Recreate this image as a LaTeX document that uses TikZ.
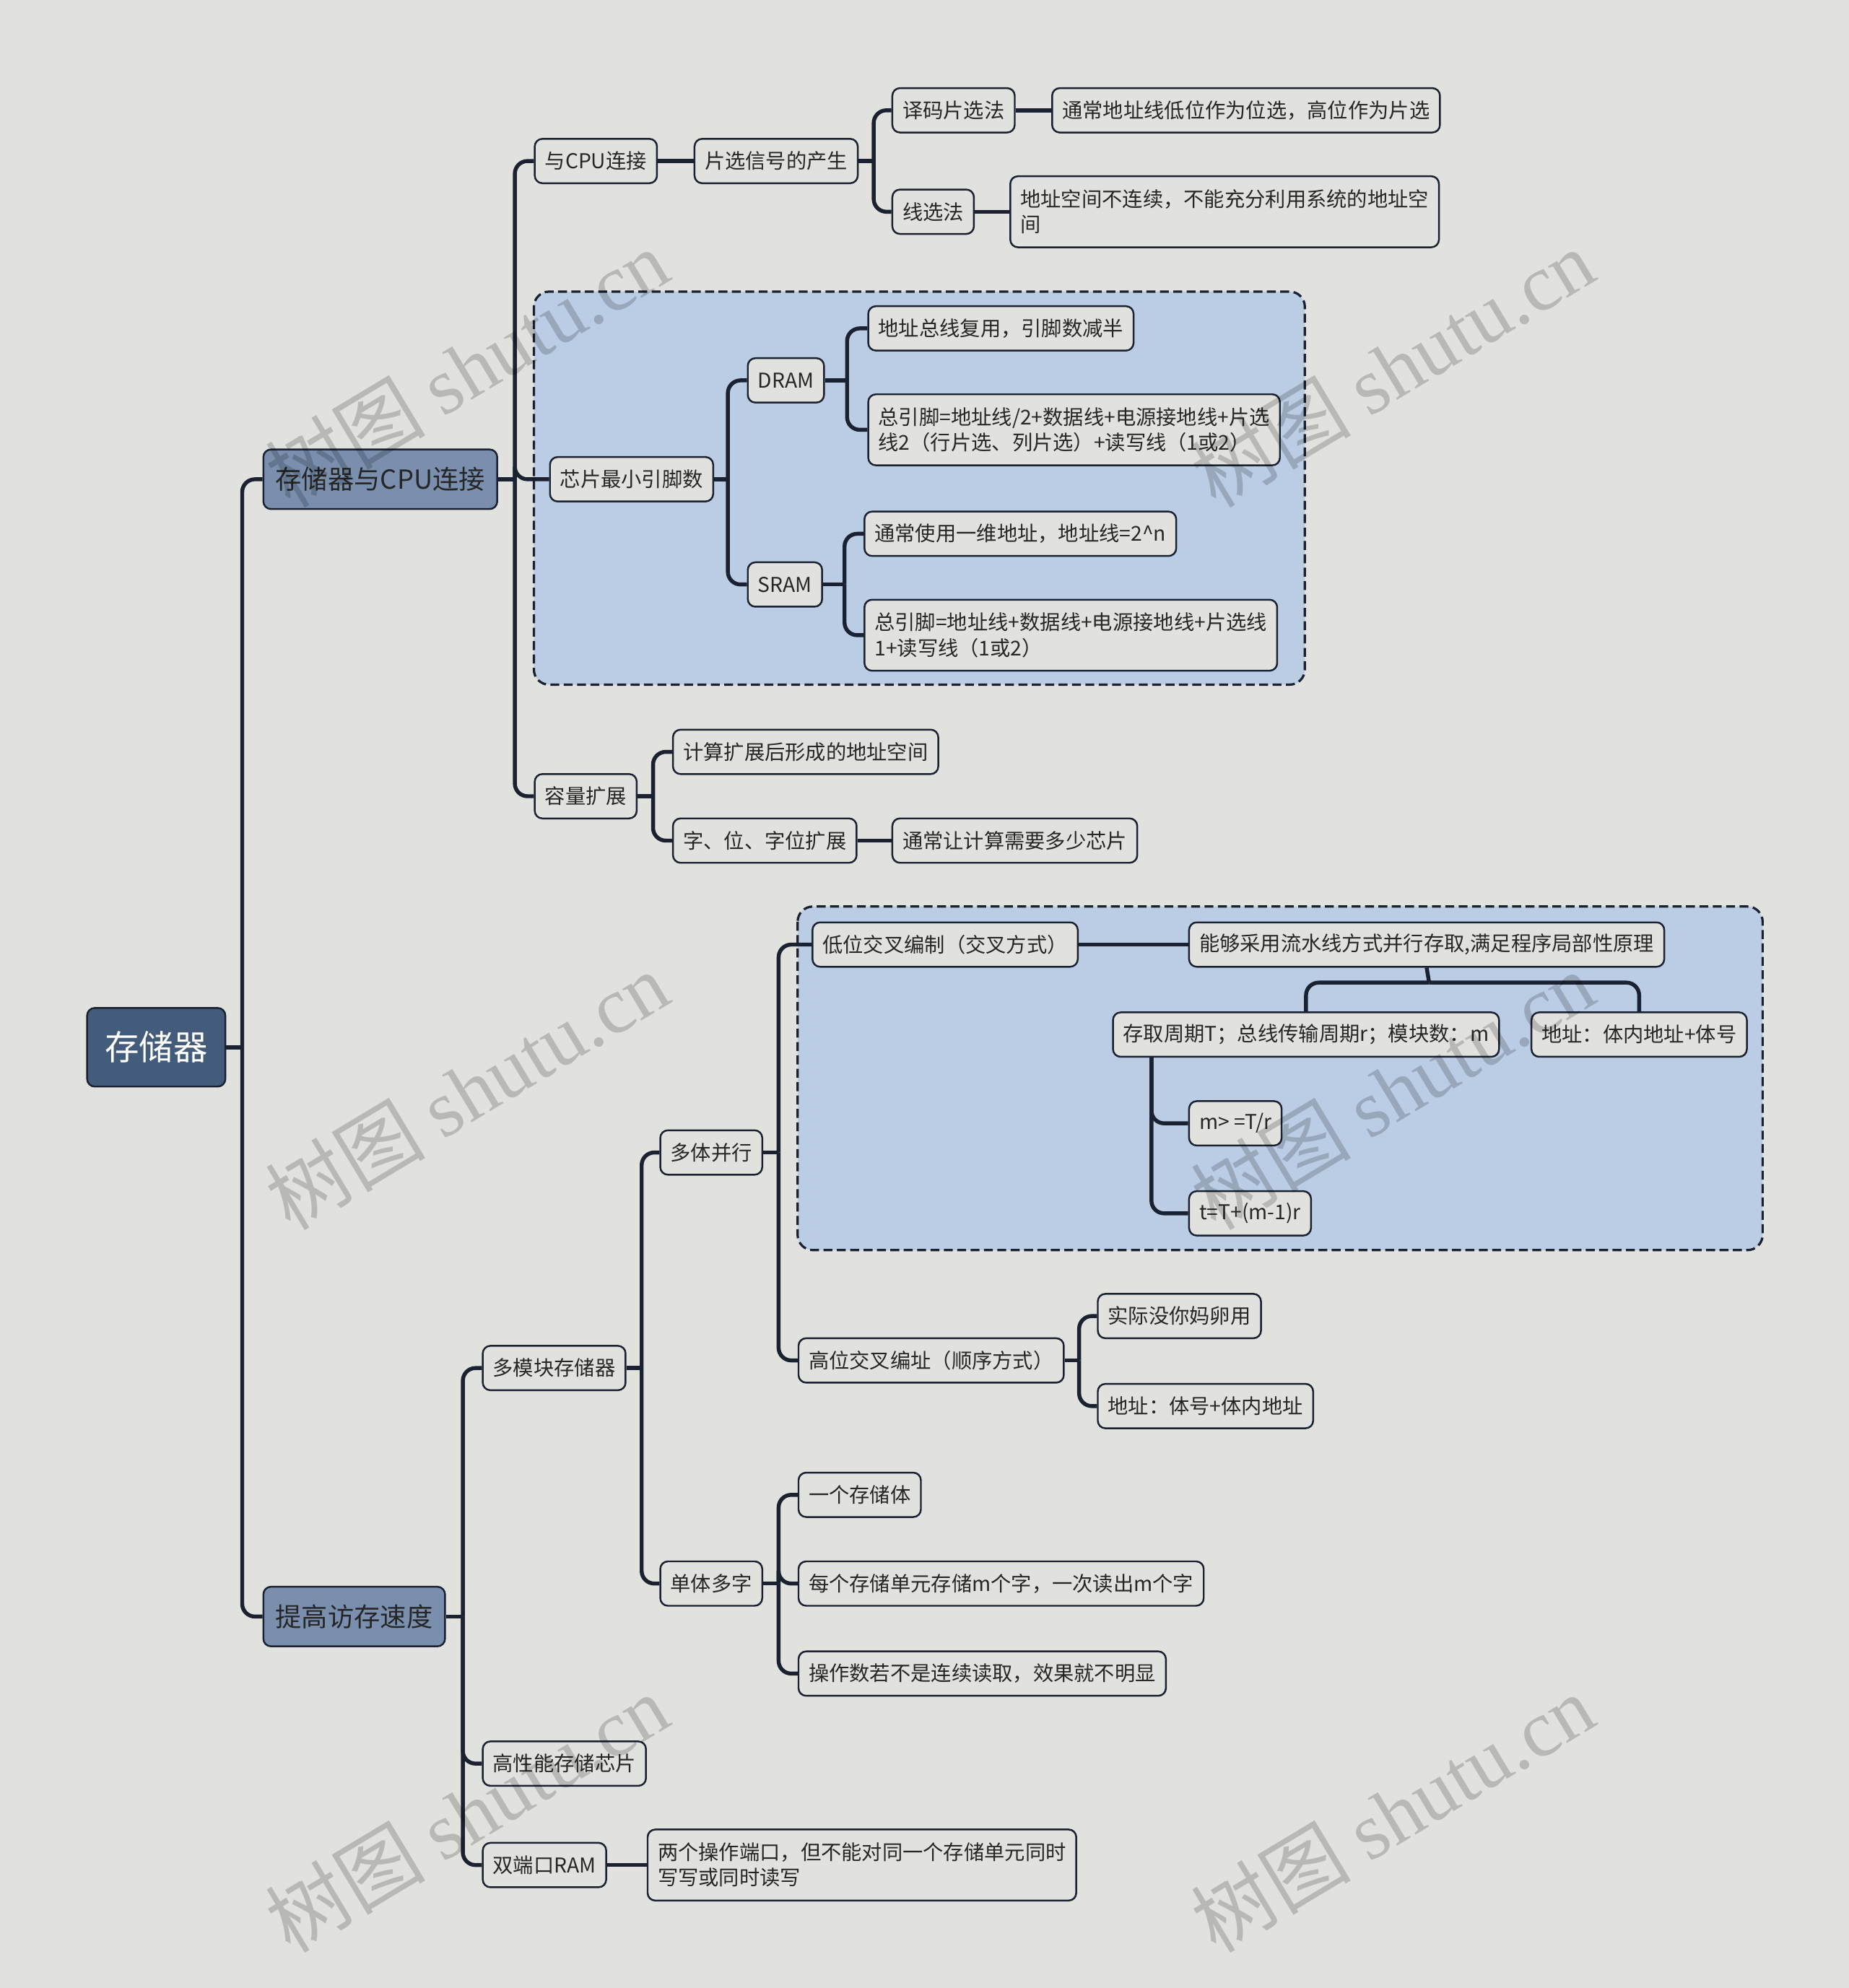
\documentclass[tikz,border=0pt]{standalone}
\usepackage{fontspec}
\setmainfont{Noto Sans CJK SC}
\newfontfamily\wmfont{Liberation Serif}
\usetikzlibrary{calc}

\definecolor{bgc}{HTML}{E1E2DE}
\definecolor{rootc}{HTML}{445C7C}
\definecolor{topc}{HTML}{7A8FAE}
\definecolor{groupc}{HTML}{BBCCE5}
\definecolor{linec}{HTML}{1A2232}
\definecolor{textc}{HTML}{262626}

\tikzset{
  link/.style={draw=linec, line width=2.2pt, rounded corners=0.25cm},
  leaf/.style={draw=linec, line width=1pt, fill=bgc, text=textc, rounded corners=0.15cm,
    anchor=west, align=left, minimum height=0.875cm, inner xsep=0.2cm, inner ysep=0.1cm,
    font=\fontsize{11.45}{14.2}\selectfont},
  leaftwo/.style={leaf, minimum height=1.4cm},
  topic/.style={leaf, fill=topc, minimum height=1.175cm, inner xsep=0.24cm,
    font=\fontsize{14.7}{18}\selectfont},
  rootnode/.style={leaf, fill=rootc, text=white, minimum height=1.55cm, inner xsep=0.35cm,
    font=\fontsize{19.2}{23}\selectfont},
  group/.style={draw=linec, line width=1.3pt, dash pattern=on 5pt off 2.5pt, fill=groupc,
    rounded corners=0.3cm},
  shutumark/.style={rotate=31, text=black, text opacity=0.18,
    font=\fontsize{45}{45}\selectfont}
}

\begin{document}
\begin{tikzpicture}[x=0.025cm, y=-0.025cm]
\useasboundingbox (0,0) rectangle (1458,1568);
\fill[bgc] (0,0) rectangle (1458,1568);

% dashed groups
\draw[group] (421,230) rectangle (1029,540);
\draw[group] (629,715) rectangle (1390,986);

% root and main topics
\node[rootnode] (root) at (68,826) {存储器};
\node[topic] (conn) at (207,378) {存储器与CPU连接};
\node[topic] (speed) at (207,1275) {提高访存速度};

% 存储器与CPU连接
\node[leaf] (cpu) at (421,127) {与CPU连接};
\node[leaf] (cs) at (547,127) {片选信号的产生};
\node[leaf] (dec) at (703,87) {译码片选法};
\node[leaf] (line) at (703,167) {线选法};
\node[leaf] (decnote) at (829,87) {通常地址线低位作为位选，高位作为片选};
\node[leaftwo] (linenote) at (796,167) {地址空间不连续，不能充分利用系统的地址空\\间};
\node[leaf] (pins) at (433,378) {芯片最小引脚数};
\node[leaf] (dram) at (589,300) {DRAM};
\node[leaf] (sram) at (589,461) {SRAM};
\node[leaf] (dramA) at (684,259) {地址总线复用，引脚数减半};
\node[leaftwo] (dramB) at (684,339) {总引脚=地址线/2+数据线+电源接地线+片选\\线2（行片选、列片选）+读写线（1或2）};
\node[leaf] (sramA) at (681,421) {通常使用一维地址，地址线=2\textasciicircum{}n};
\node[leaftwo] (sramB) at (681,501) {总引脚=地址线+数据线+电源接地线+片选线\\1+读写线（1或2）};
\node[leaf] (cap) at (421,628) {容量扩展};
\node[leaf] (addr) at (530,593) {计算扩展后形成的地址空间};
\node[leaf] (ext) at (530,663) {字、位、字位扩展};
\node[leaf] (extnote) at (703,663) {通常让计算需要多少芯片};

% 提高访存速度
\node[leaf] (multi) at (380,1079) {多模块存储器};
\node[leaf] (hp) at (380,1391) {高性能存储芯片};
\node[leaf] (dual) at (380,1471) {双端口RAM};
\node[leaftwo] (dualnote) at (510,1471) {两个操作端口，但不能对同一个存储单元同时\\写写或同时读写};
\node[leaf] (par) at (520,909) {多体并行};
\node[leaf] (single) at (520,1249) {单体多字};
\node[leaf] (low) at (640,745) {低位交叉编制（交叉方式）};
\node[leaf] (lownote) at (937,745) {能够采用流水线方式并行存取,满足程序局部性原理};
\node[leaf] (period) at (877,816) {存取周期T；总线传输周期r；模块数：m};
\node[leaf] (addrin) at (1207,816) {地址：体内地址+体号};
\node[leaf] (mge) at (937,886) {m> =T/r};
\node[leaf] (tform) at (937,957) {t=T+(m-1)r};
\node[leaf] (high) at (629,1073) {高位交叉编址（顺序方式）};
\node[leaf] (useless) at (865,1038) {实际没你妈卵用};
\node[leaf] (addrhi) at (865,1109) {地址：体号+体内地址};
\node[leaf] (one) at (629,1179) {一个存储体};
\node[leaf] (each) at (629,1249) {每个存储单元存储m个字，一次读出m个字};
\node[leaf] (notc) at (629,1320) {操作数若不是连续读取，效果就不明显};

% junctions
\coordinate (j0) at (191,826);
\coordinate (jA) at (406,378);
\coordinate (jC) at (689,127);
\coordinate (jD) at (574,378);
\coordinate (jE) at (668,300);
\coordinate (jF) at (666,461);
\coordinate (jG) at (515,628);
\coordinate (jH) at (365,1275);
\coordinate (jI) at (506,1079);
\coordinate (jJ) at (614,909);
\coordinate (jK) at (1127,775);
\coordinate (jL) at ([xshift=0.775cm]period.south west);
\coordinate (jM) at (851,1073);
\coordinate (jN) at (614,1249);

% connectors
\draw[link] (root.east) -- (j0);
\draw[link] (j0) |- (conn.west);
\draw[link] (j0) |- (speed.west);

\draw[link] (conn.east) -- (jA);
\foreach \c in {cpu,pins,cap} \draw[link] (jA) |- (\c.west);
\draw[link] (cpu) -- (cs);
\draw[link] (cs.east) -- (jC);
\foreach \c in {dec,line} \draw[link] (jC) |- (\c.west);
\draw[link] (dec) -- (decnote);
\draw[link] (line) -- (linenote);
\draw[link] (pins.east) -- (jD);
\foreach \c in {dram,sram} \draw[link] (jD) |- (\c.west);
\draw[link] (dram.east) -- (jE);
\foreach \c in {dramA,dramB} \draw[link] (jE) |- (\c.west);
\draw[link] (sram.east) -- (jF);
\foreach \c in {sramA,sramB} \draw[link] (jF) |- (\c.west);
\draw[link] (cap.east) -- (jG);
\foreach \c in {addr,ext} \draw[link] (jG) |- (\c.west);
\draw[link] (ext) -- (extnote);

\draw[link] (speed.east) -- (jH);
\foreach \c in {multi,hp,dual} \draw[link] (jH) |- (\c.west);
\draw[link] (dual) -- (dualnote);
\draw[link] (multi.east) -- (jI);
\foreach \c in {par,single} \draw[link] (jI) |- (\c.west);
\draw[link] (par.east) -- (jJ);
\foreach \c in {low,high} \draw[link] (jJ) |- (\c.west);
\draw[link] (low) -- (lownote);
\draw[link] (lownote.south) -- (jK);
\foreach \c in {period,addrin} \draw[link] (jK) -| (\c.north);
\foreach \c in {mge,tform} \draw[link] (jL) |- (\c.west);
\draw[link] (high.east) -- (jM);
\foreach \c in {useless,addrhi} \draw[link] (jM) |- (\c.west);
\draw[link] (single.east) -- (jN);
\foreach \c in {one,each,notc} \draw[link] (jN) |- (\c.west);

% watermark
\node[shutumark] (wm1) at (368,290) {树图 {\wmfont shutu.cn}};
\node[shutumark] (wm2) at (1098,290) {树图 {\wmfont shutu.cn}};
\node[shutumark] (wm3) at (368,860) {树图 {\wmfont shutu.cn}};
\node[shutumark] (wm4) at (1098,860) {树图 {\wmfont shutu.cn}};
\node[shutumark] (wm5) at (368,1430) {树图 {\wmfont shutu.cn}};
\node[shutumark] (wm6) at (1098,1430) {树图 {\wmfont shutu.cn}};
\end{tikzpicture}
\end{document}
